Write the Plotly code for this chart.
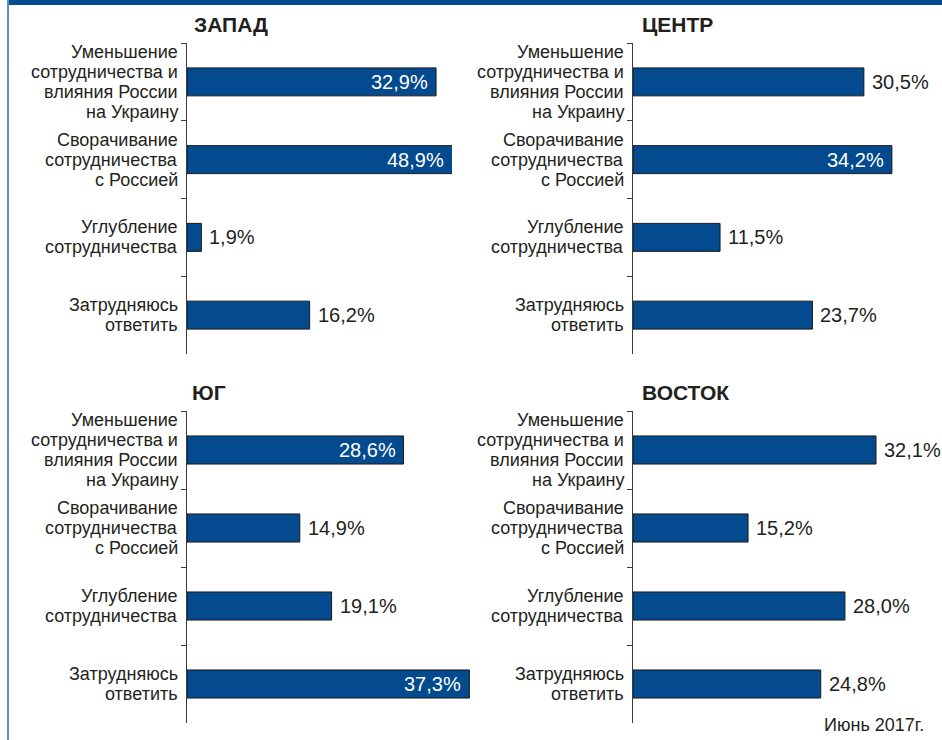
import plotly.graph_objects as go

# ---------------- data ----------------
CATEGORY_LINES = [
    ["Уменьшение", "сотрудничества и", "влияния России", "на Украину"],
    ["Сворачивание", "сотрудничества", "с Россией"],
    ["Углубление", "сотрудничества"],
    ["Затрудняюсь", "ответить"],
]
CATEGORIES = [" ".join(c) for c in CATEGORY_LINES]

PANEL_TITLES = ["ЗАПАД", "ЦЕНТР", "ЮГ", "ВОСТОК"]
WEST = [32.9, 48.9, 1.9, 16.2]
CENTER = [30.5, 34.2, 11.5, 23.7]
SOUTH = [28.6, 14.9, 19.1, 37.3]
EAST = [32.1, 15.2, 28.0, 24.8]
PANEL_VALUES = [WEST, CENTER, SOUTH, EAST]
FOOTNOTE = "Июнь 2017г."

# ---------------- style / layout ----------------
W, H = 942, 740
BAR_COLOR = "#034a8e"
TEXT_COLOR = "#231f20"
AXIS_COLOR = "#3a3a3a"
FONT = "Liberation Sans, Arial, Helvetica, sans-serif"
PX_PER_PCT = 7.57

# per panel: axis left px, top px, bottom px, axis max (%), inside-label threshold
PANELS = [
    dict(x0=187, y0=43, y1=354, vmax=35.0, inside=25),
    dict(x0=633, y0=43, y1=354, vmax=40.0, inside=33),
    dict(x0=187, y0=411, y1=723, vmax=40.0, inside=25),
    dict(x0=633, y0=411, y1=723, vmax=40.0, inside=33),
]
TITLE_POS = [(192, 25), (640, 25), (190, 392), (640, 392)]

fig = go.Figure()
annotations = []
layout_axes = {}

for i, (vals, p) in enumerate(zip(PANEL_VALUES, PANELS)):
    sfx = "" if i == 0 else str(i + 1)
    xa, ya = "x" + sfx, "y" + sfx
    x_end = p["x0"] + p["vmax"] * PX_PER_PCT
    layout_axes["xaxis" + sfx] = dict(
        domain=[p["x0"] / W, x_end / W],
        range=[0, p["vmax"]],
        visible=False,
        anchor=ya,
        fixedrange=True,
    )
    layout_axes["yaxis" + sfx] = dict(
        domain=[1 - p["y1"] / H, 1 - p["y0"] / H],
        type="category",
        categoryorder="array",
        categoryarray=CATEGORIES,
        range=[len(CATEGORIES) - 0.5, -0.5],
        anchor=xa,
        showline=True,
        linecolor=AXIS_COLOR,
        linewidth=1,
        ticks="outside",
        tickson="boundaries",
        ticklen=5,
        tickcolor=AXIS_COLOR,
        tickwidth=1,
        showticklabels=False,
        showgrid=False,
        zeroline=False,
        fixedrange=True,
    )
    fig.add_trace(
        go.Bar(
            x=vals,
            y=CATEGORIES,
            orientation="h",
            xaxis=xa,
            yaxis=ya,
            width=0.36,
            marker=dict(color=BAR_COLOR, line=dict(color="#1a1a1a", width=1)),
            hoverinfo="skip",
            showlegend=False,
        )
    )
    # value labels
    for cat, v in zip(CATEGORIES, vals):
        txt = f"{v:.1f}".replace(".", ",") + "%"
        inside = v > p["inside"]
        annotations.append(
            dict(
                x=min(v, p["vmax"]),
                y=cat,
                xref=xa,
                yref=ya,
                text=txt,
                showarrow=False,
                xanchor="right" if inside else "left",
                yanchor="middle",
                xshift=-6 if inside else 6,
                font=dict(family=FONT, size=20, color="white" if inside else TEXT_COLOR),
            )
        )
    # category labels (one annotation per line for tight line spacing)
    for cat, lines in zip(CATEGORIES, CATEGORY_LINES):
        n = len(lines)
        for k, line in enumerate(lines):
            annotations.append(
                dict(
                    x=0,
                    y=cat,
                    xref=xa + " domain",
                    yref=ya,
                    text=line,
                    showarrow=False,
                    xanchor="right",
                    yanchor="middle",
                    xshift=-7,
                    yshift=((n - 1) / 2 - k) * 20,
                    font=dict(family=FONT, size=18, color=TEXT_COLOR),
                )
            )
    # panel title
    tx, ty = TITLE_POS[i]
    annotations.append(
        dict(
            x=tx / W,
            y=1 - ty / H,
            xref="paper",
            yref="paper",
            text=f"<b>{PANEL_TITLES[i]}</b>",
            showarrow=False,
            xanchor="left",
            yanchor="middle",
            font=dict(family=FONT, size=21, color=TEXT_COLOR),
        )
    )

annotations.append(
    dict(
        x=926 / W,
        y=1 - 725 / H,
        xref="paper",
        yref="paper",
        text=FOOTNOTE,
        showarrow=False,
        xanchor="right",
        yanchor="middle",
        font=dict(family=FONT, size=18, color=TEXT_COLOR),
    )
)

shapes = [
    # top blue band
    dict(type="rect", xref="paper", yref="paper", x0=7 / W, x1=1, y0=1 - 5 / H, y1=1,
         fillcolor="#034a8e", line=dict(width=0), layer="above"),
    # left border line
    dict(type="rect", xref="paper", yref="paper", x0=7 / W, x1=9 / W, y0=0, y1=1,
         fillcolor="#5b8dc8", line=dict(width=0), layer="above"),
]

fig.update_layout(
    width=W,
    height=H,
    margin=dict(l=0, r=0, t=0, b=0),
    paper_bgcolor="white",
    plot_bgcolor="white",
    annotations=annotations,
    shapes=shapes,
    bargap=0.64,
    **layout_axes,
)

fig.write_html(
    "out.html",
    config={"displayModeBar": False},
    post_script="document.body.style.margin='0';",
)
